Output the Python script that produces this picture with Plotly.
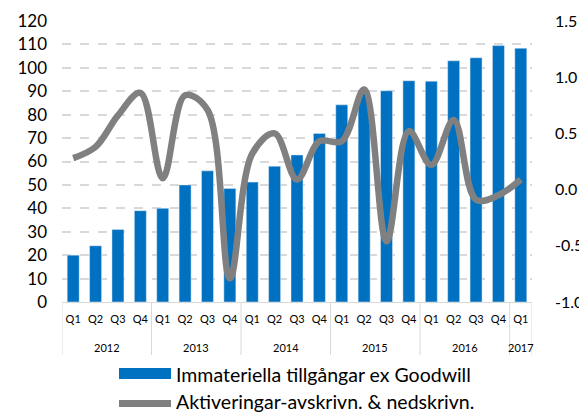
import plotly.graph_objects as go

years = ["2012"] * 4 + ["2013"] * 4 + ["2014"] * 4 + ["2015"] * 4 + ["2016"] * 4 + ["2017"]
quarters = ["Q1", "Q2", "Q3", "Q4"] * 5 + ["Q1"]
immateriella = [20, 24, 31, 39, 40, 50, 56, 48.5, 51.2, 58, 62.8, 72,
                84.2, 89, 90.2, 94.5, 94.3, 103, 104.3, 109.5, 108.4]
aktiveringar = [0.28, 0.38, 0.66, 0.86, 0.10, 0.84, 0.71, -0.79, 0.32, 0.50, 0.09, 0.43,
                0.43, 0.89, -0.46, 0.52, 0.22, 0.62, -0.09, -0.05, 0.09]
left_ticks = list(range(0, 121, 10))
right_ticks = [-1.0, -0.5, 0.0, 0.5, 1.0, 1.5]
right_labels = ["-1.0", "-0.5", "0.0", "0.5", "1.0", "1.5"]
names = ["Immateriella tillgångar ex Goodwill", "Aktiveringar-avskrivn. & nedskrivn."]

BLUE = "#0070C0"
GRAY = "#808080"
LIGHT = "#d9d9d9"
FONT = "Lato"

# unique category keys built from year + quarter
cats = [f"{y} {q}" for y, q in zip(years, quarters)]

fig = go.Figure()
fig.add_trace(go.Bar(x=cats, y=immateriella, marker_color=BLUE,
                     name=names[0], showlegend=False))
fig.add_trace(go.Scatter(x=cats, y=aktiveringar, mode="lines", yaxis="y2",
                         line=dict(color=GRAY, width=6.5, shape="spline", smoothing=1.0),
                         name=names[1], showlegend=False))

# page body has an 8px margin: figure is offset by 8px in the window
W, H = 579, 406
L, T = 54, 13
PW, PH = 470, 281

fig.update_layout(
    width=W, height=H,
    margin=dict(l=L, r=W - L - PW, t=T, b=H - T - PH, autoexpand=False),
    paper_bgcolor="white", plot_bgcolor="white",
    bargap=0.464,
    font=dict(family=FONT, color="#000000"),
    xaxis=dict(type="category", showgrid=False, showline=True, linecolor=LIGHT,
               linewidth=1, tickangle=0, automargin=False, ticks="",
               tickvals=cats, ticktext=quarters, ticklabelstandoff=7,
               tickfont=dict(size=11, color="#000000"), range=[-0.5, len(cats) - 0.5]),
    yaxis=dict(range=[0, 120], tickvals=left_ticks, showgrid=True,
               gridcolor=LIGHT, griddash="dash", gridwidth=1.5,
               tickfont=dict(size=17), ticklabelstandoff=14, zeroline=False,
               showline=False, automargin=False),
    yaxis2=dict(range=[-1.0, 1.5], overlaying="y", side="right",
                tickvals=right_ticks, ticktext=right_labels, showgrid=False,
                tickfont=dict(size=16), ticklabelstandoff=22, zeroline=False,
                automargin=False),
)


def px_to_paper_x(px):
    return (px - 62) / PW


def px_to_paper_y(py):
    return (302 - py) / PH


# year group labels and dividers, derived from the year list
groups = []
for i, y in enumerate(years):
    if not groups or groups[-1][0] != y:
        groups.append([y, i, i])
    else:
        groups[-1][2] = i

div_bottom = px_to_paper_y(355)
for y, start, end in groups:
    fig.add_annotation(xref="x", yref="paper", x=(start + end) / 2,
                       y=px_to_paper_y(347), text=y, showarrow=False,
                       xanchor="center", yanchor="middle",
                       font=dict(size=11, family=FONT, color="#000000"))
    fig.add_shape(type="line", xref="x", yref="paper", x0=start - 0.5, x1=start - 0.5,
                  y0=0, y1=div_bottom, line=dict(color=LIGHT, width=1))
fig.add_shape(type="line", xref="x", yref="paper", x0=len(years) - 0.5, x1=len(years) - 0.5,
              y0=0, y1=div_bottom, line=dict(color=LIGHT, width=1))

# legend drawn manually
legend_items = [(BLUE, 368, 379, 374), (GRAY, 400, 407, 401.5)]
for i, (col, y_top, y_bot, ty) in enumerate(legend_items):
    fig.add_shape(type="rect", xref="paper", yref="paper",
                  x0=px_to_paper_x(119), x1=px_to_paper_x(171),
                  y0=px_to_paper_y(y_bot), y1=px_to_paper_y(y_top),
                  line_width=0, fillcolor=col)
    fig.add_annotation(xref="paper", yref="paper", x=px_to_paper_x(174),
                       y=px_to_paper_y(ty), text=names[i], showarrow=False,
                       xanchor="left", yanchor="middle",
                       font=dict(size=19.5, family=FONT, color="#000000"))

fig.write_html("out.html")
